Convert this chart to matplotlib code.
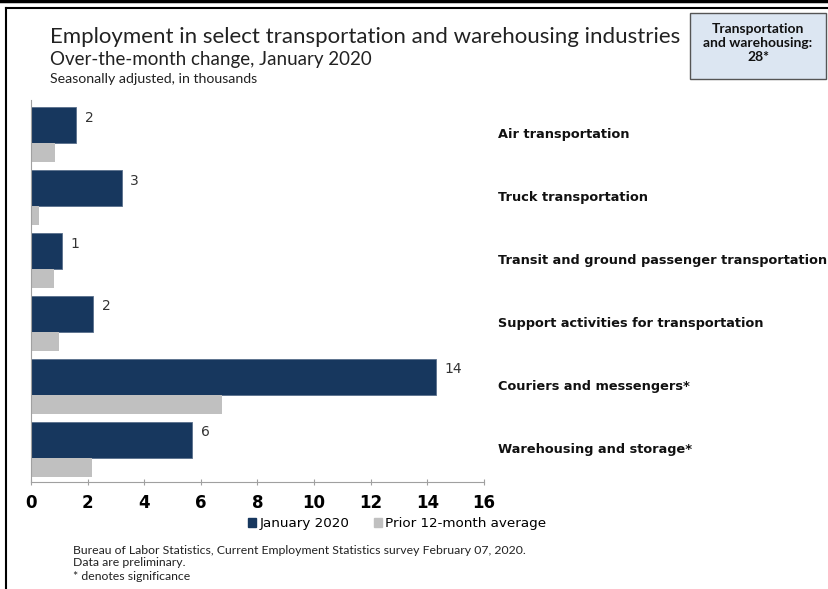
import numpy as np
import matplotlib
matplotlib.use('Agg')
import matplotlib.pyplot as plt
from matplotlib.patches import Rectangle, Patch

industries = ['Air transportation', 'Truck transportation',
              'Transit and ground passenger transportation',
              'Support activities for transportation',
              'Couriers and messengers*', 'Warehousing and storage*']
jan_2020 = [1.6, 3.2, 1.1, 2.2, 14.3, 5.7]
jan_labels = ['2', '3', '1', '2', '14', '6']
prior_avg = [0.85, 0.3, 0.8, 1.0, 6.75, 2.15]
xticks = [0, 2, 4, 6, 8, 10, 12, 14, 16]

NAVY = '#17375e'
GREY = '#c0c0c0'

fig = plt.figure(figsize=(8.29, 5.89), dpi=100)
ax = fig.add_axes([31/829, 1-482/589, (484-31)/829, (482-100)/589])

y = np.arange(len(industries))
ax.barh(y - 0.15, jan_2020, height=0.57, color=NAVY, edgecolor='#5a6f8c', linewidth=0.6)
ax.barh(y + 0.29, prior_avg, height=0.30, color=GREY, edgecolor='none')

for yi, v, lab in zip(y, jan_2020, jan_labels):
    ax.text(v + 0.3, yi - 0.27, lab, va='center', ha='left', fontsize=10, color='#333333')
for yi, name in zip(y, industries):
    ax.text(16.5, yi, name, va='center', ha='left', fontsize=9.3, fontweight='bold',
            color='#111111', clip_on=False)

ax.set_xlim(0, 16)
ax.set_ylim(5.516, -0.548)
ax.set_xticks(xticks)
ax.set_xticklabels([str(t) for t in xticks], fontweight='bold', fontsize=12)
ax.set_yticks([])
for s in ['top', 'right']:
    ax.spines[s].set_visible(False)
ax.spines['left'].set_color('#a0a0a0')
ax.spines['bottom'].set_color('#a0a0a0')
ax.tick_params(axis='x', direction='inout', length=5, color='#a0a0a0', pad=6)

fig.legend(handles=[Patch(color=NAVY, label='January 2020'), Patch(color=GREY, label='Prior 12-month average')],
           loc='center left', bbox_to_anchor=(248/829, 1-524/589), ncol=2, frameon=False,
           fontsize=9.7, handlelength=0.6, handleheight=0.6, handletextpad=0.25, columnspacing=1.8,
           borderpad=0, borderaxespad=0)

# titles
fig.text(50/829, 1-37/589, 'Employment in select transportation and warehousing industries',
         family='Lato', fontsize=16, va='center', color='#222222')
fig.text(50/829, 1-60/589, 'Over-the-month change, January 2020',
         family='Lato', fontsize=13.5, va='center', color='#222222')
fig.text(50/829, 1-79/589, 'Seasonally adjusted, in thousands',
         family='Lato', fontsize=10.2, va='center', color='#222222')

# total box
fig.patches.append(Rectangle((690/829, 1-79/589), 136/829, 66/589, transform=fig.transFigure,
                             facecolor='#dce6f2', edgecolor='#555555', linewidth=1))
fig.text(758/829, 1-43/589, 'Transportation\nand warehousing:\n28*', ha='center', va='center',
         family='Lato', fontsize=10, fontweight='bold', linespacing=1.2, color='#111111')

# footnotes
fig.text(73/829, 1-550/589, 'Bureau of Labor Statistics, Current Employment Statistics survey February 07, 2020.',
         family='Lato', fontsize=8.8, va='center', color='#222222')
fig.text(73/829, 1-563/589, 'Data are preliminary.', family='Lato', fontsize=8.8, va='center', color='#222222')
fig.text(73/829, 1-576/589, '* denotes significance', family='Lato', fontsize=8.8, va='center', color='#222222')

# frame lines
fig.add_artist(plt.Line2D([0, 1], [1-1/589, 1-1/589], transform=fig.transFigure, color='black', lw=2.5))
fig.add_artist(plt.Line2D([6/829, 1], [1-8/589, 1-8/589], transform=fig.transFigure, color='black', lw=1.5))
fig.add_artist(plt.Line2D([6/829, 6/829], [0, 1-8/589], transform=fig.transFigure, color='black', lw=1.5))

fig.savefig('out.png', dpi=100)
